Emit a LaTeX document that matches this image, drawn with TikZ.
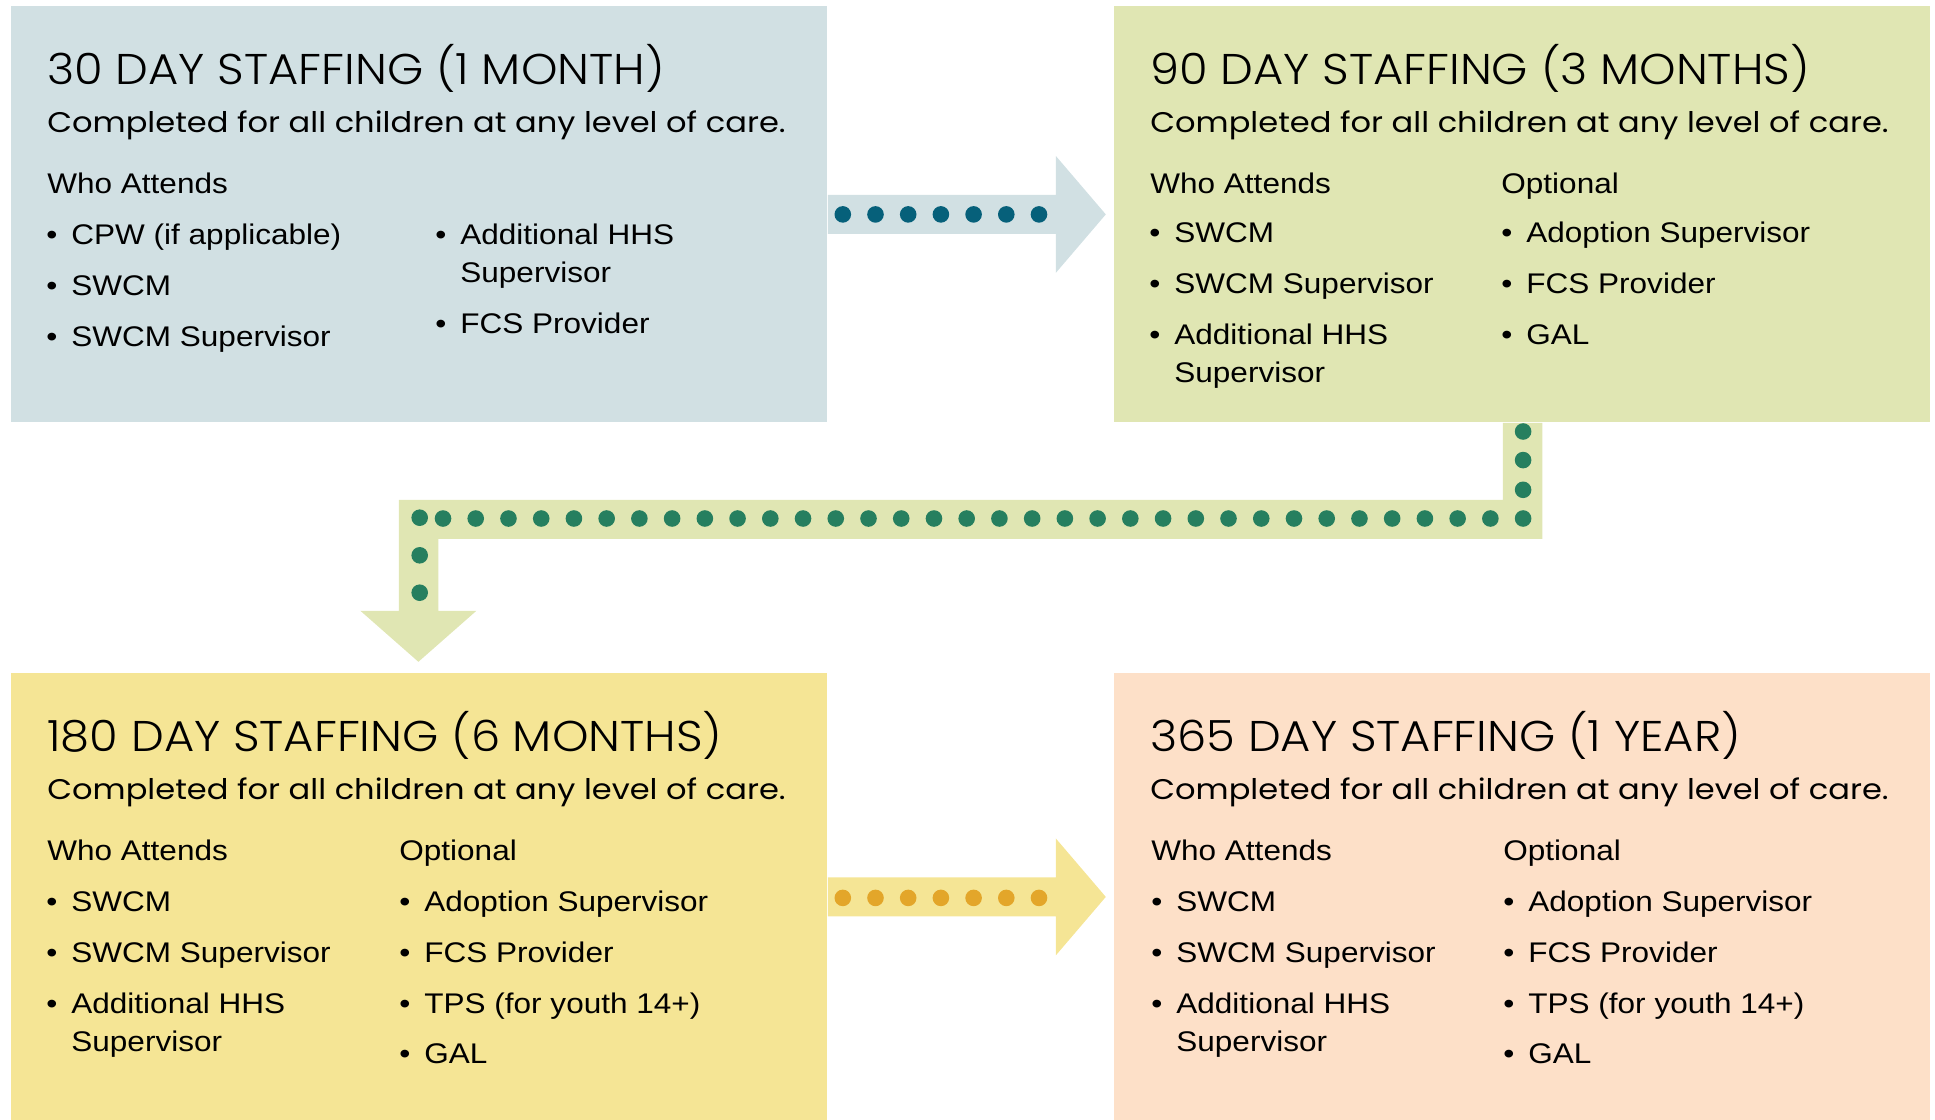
\documentclass[tikz,border=0pt]{standalone}
\usepackage{fontspec}
\setmainfont{Liberation Sans}[FakeStretch=1.11]
\newfontfamily\headfont{Poppins Light}[FakeStretch=1.08]
\newfontfamily\subfont{Poppins}[FakeStretch=1.13]
\usetikzlibrary{calc}
\definecolor{blueA}{HTML}{D1E0E3}
\definecolor{greenA}{HTML}{E0E6B3}
\definecolor{yellowA}{HTML}{F5E595}
\definecolor{peachA}{HTML}{FDE0C8}
\definecolor{tealdot}{HTML}{06607A}
\definecolor{greendot}{HTML}{267F5F}
\definecolor{golddot}{HTML}{E3A62A}
\tikzset{
    sbox/.style={anchor=north west,inner sep=0pt,minimum width=408pt},
    stitle/.style={anchor=base west,inner sep=0pt,font=\headfont\fontsize{21.5}{26}\selectfont},
    ssub/.style={anchor=base west,inner sep=0pt,font=\subfont\fontsize{14.2}{17}\selectfont},
    shead/.style={anchor=base west,inner sep=0pt,font=\fontsize{14.2}{17}\selectfont},
    sbul/.style={anchor=base,inner sep=0pt,font=\fontsize{14.2}{17}\selectfont},
}
\newcommand\staffing[4]{
    \node[stitle] (#1-t) at ($(#1.north west)+(#2,78)$) {#3};
    \node[ssub]   (#1-s) at ($(#1.north west)+(#2,126)$) {#4};
}
\newcommand\who[4]{
    \node[sbul]  (#1-#2-#3b) at ($(#1.north west)+(#2,#3)$) {\textbullet};
    \node[shead] (#1-#2-#3)  at ($(#1.north west)+(#2+19,#3)$) {#4};
}
\newcommand\more[4]{
    \node[shead] (#1-#2-#3)  at ($(#1.north west)+(#2+19,#3)$) {#4};
}

\begin{document}
\begin{tikzpicture}[x=0.5pt,y=-0.5pt]
    \useasboundingbox (0,0) rectangle (1935,1120);
    % the four staffing boxes
    \node[sbox,fill=blueA,minimum height=208pt]     (b30)  at (11,6)     {};
    \node[sbox,fill=greenA,minimum height=208pt]    (b90)  at (1114,6)   {};
    \node[sbox,fill=yellowA,minimum height=223.5pt] (b180) at (11,673)   {};
    \node[sbox,fill=peachA,minimum height=223.5pt]  (b365) at (1114,673) {};

    % arrows between them
    \fill[blueA] (b30.east) ++(0,-19.5) -- ++(228,0) -- ++(0,-39) --
        ++(50,58.5) -- ++(-50,58.5) -- ++(0,-39) -- ++(-228,0) -- cycle;
    \fill[greenA] (b90.south) ++(-19.5,0) -- ++(0,77) -- ++(-1104,0) --
        ++(0,111) -- ++(-38.5,0) -- ++(58,51) -- ++(58,-51) -- ++(-38,0) --
        ++(0,-72) -- ++(1104,0) -- ++(0,-116) -- cycle;
    \fill[yellowA] (b180.east) ++(0,-19.5) -- ++(228,0) -- ++(0,-39) --
        ++(50,58.5) -- ++(-50,58.5) -- ++(0,-39) -- ++(-228,0) -- cycle;

    % dots on the arrows
    \foreach \k in {0,...,6}
        \fill[tealdot] ($(b30.east)+(15+32.7*\k,0)$) circle (8.3);
    \foreach \y in {8.7,37.3,67}
        \fill[greendot] ($(b90.south)+(0.7,\y)$) circle (8.3);
    \foreach \k in {0,...,33}
        \fill[greendot] ($(b90.south)+(0.7-32.73*\k,95.7)$) circle (8.3);
    \foreach \y in {-155.3,-117.7,-80.3}
        \fill[greendot] ($(b180.north)+(0.3,\y)$) circle (8.3);
    \foreach \k in {0,...,6}
        \fill[golddot] ($(b180.east)+(15+32.7*\k,1)$) circle (8.3);

    % 30 days
    \staffing{b30}{36}{30 DAY STAFFING (1 MONTH)}{Completed for all children at any level of care.}
    \node[shead] (b30-w) at ($(b30.north west)+(36,187)$) {Who Attends};
    \who{b30}{41}{238}{CPW (if applicable)}
    \who{b30}{41}{289}{SWCM}
    \who{b30}{41}{340}{SWCM Supervisor}
    \who{b30}{430}{238}{Additional HHS}
    \more{b30}{430}{276}{Supervisor}
    \who{b30}{430}{327}{FCS Provider}

    % 90 days
    \staffing{b90}{36}{90 DAY STAFFING (3 MONTHS)}{Completed for all children at any level of care.}
    \node[shead] (b90-w) at ($(b90.north west)+(36,187)$) {Who Attends};
    \node[shead] (b90-o) at ($(b90.north west)+(387,187)$) {Optional};
    \who{b90}{41}{236}{SWCM}
    \who{b90}{41}{287}{SWCM Supervisor}
    \who{b90}{41}{338}{Additional HHS}
    \more{b90}{41}{376}{Supervisor}
    \who{b90}{393}{236}{Adoption Supervisor}
    \who{b90}{393}{287}{FCS Provider}
    \who{b90}{393}{338}{GAL}

    % 180 days
    \staffing{b180}{36}{180 DAY STAFFING (6 MONTHS)}{Completed for all children at any level of care.}
    \node[shead] (b180-w) at ($(b180.north west)+(36,187)$) {Who Attends};
    \node[shead] (b180-o) at ($(b180.north west)+(388,187)$) {Optional};
    \who{b180}{41}{238}{SWCM}
    \who{b180}{41}{289}{SWCM Supervisor}
    \who{b180}{41}{340}{Additional HHS}
    \more{b180}{41}{378}{Supervisor}
    \who{b180}{394}{238}{Adoption Supervisor}
    \who{b180}{394}{289}{FCS Provider}
    \who{b180}{394}{340}{TPS (for youth 14+)}
    \who{b180}{394}{390}{GAL}

    % 365 days
    \staffing{b365}{36}{365 DAY STAFFING (1 YEAR)}{Completed for all children at any level of care.}
    \node[shead] (b365-w) at ($(b365.north west)+(37,187)$) {Who Attends};
    \node[shead] (b365-o) at ($(b365.north west)+(389,187)$) {Optional};
    \who{b365}{43}{238}{SWCM}
    \who{b365}{43}{289}{SWCM Supervisor}
    \who{b365}{43}{340}{Additional HHS}
    \more{b365}{43}{378}{Supervisor}
    \who{b365}{395}{238}{Adoption Supervisor}
    \who{b365}{395}{289}{FCS Provider}
    \who{b365}{395}{340}{TPS (for youth 14+)}
    \who{b365}{395}{390}{GAL}
\end{tikzpicture}
\end{document}
